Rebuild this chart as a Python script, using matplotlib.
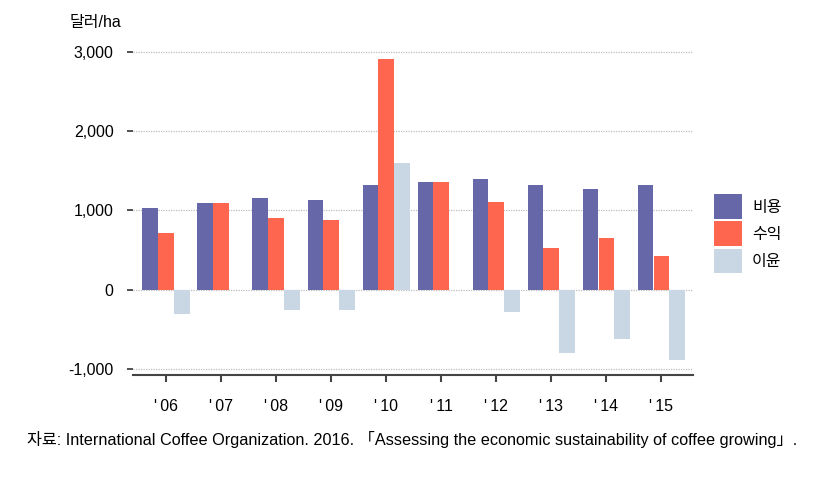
import matplotlib.pyplot as plt
from matplotlib.patches import Patch
import numpy as np

plt.rcParams['font.family'] = ['Liberation Sans', 'Noto Sans CJK KR', 'DejaVu Sans']

years = ["'\u200906", "'\u200907", "'\u200908", "'\u200909", "'\u200910",
         "'\u200911", "'\u200912", "'\u200913", "'\u200914", "'\u200915"]
cost = [1030, 1100, 1160, 1135, 1315, 1365, 1395, 1315, 1275, 1315]
revenue = [720, 1100, 900, 880, 2910, 1365, 1110, 525, 655, 430]
profit = [-305, 0, -250, -250, 1600, 0, -285, -800, -620, -885]

series = [('비용', cost, '#6567a9'), ('수익', revenue, '#ff6650'), ('이윤', profit, '#c9d6e4')]

fig = plt.figure(figsize=(8.33, 4.79), dpi=100)
ax = fig.add_axes([133 / 833, 1 - 375 / 479, 560 / 833, 331 / 479])

x = np.arange(len(years))
w = 0.29
for i, (name, vals, col) in enumerate(series):
    ax.bar(x + (i - 1) * w, vals, width=w * 0.95, color=col, zorder=3)

ax.set_xlim(-0.6, 9.58)
ax.set_ylim(-1076, 3100)
yt = [-1000, 0, 1000, 2000, 3000]
ax.set_yticks(yt)
ax.set_yticklabels(['-1,000', '0', '1,000', '2,000', '3,000'], fontsize=11.5)
for v in yt:
    ax.axhline(v, color='#bdbdbd', linestyle=(0, (1, 1)), linewidth=0.9, zorder=1)
ax.set_xticks(x)
ax.set_xticklabels(years, fontsize=11.5)

for s in ['top', 'right', 'left']:
    ax.spines[s].set_visible(False)
ax.spines['bottom'].set_color('#444444')
ax.spines['bottom'].set_linewidth(1.5)
ax.tick_params(axis='y', length=4, width=1.2, pad=10, color='#333333')
ax.tick_params(axis='x', length=5, width=1.5, pad=12, color='#444444')

handles = [Patch(facecolor=c, label=n) for n, _, c in series]
fig.legend(handles=handles, loc='upper left', bbox_to_anchor=(708 / 833, 1 - 188 / 479),
           frameon=False, fontsize=11.5, handlelength=1.75, handleheight=2.0,
           labelspacing=0.15, handletextpad=0.6, borderaxespad=0)

fig.text(70 / 833, 1 - 22 / 479, '달러/ha', fontsize=11.5, va='center', ha='left')
fig.text(27 / 833, 1 - 439 / 479,
         '자료: International Coffee Organization. 2016. 「Assessing the economic sustainability of coffee growing」.',
         fontsize=11.7, va='center', ha='left')

fig.savefig('out.png', dpi=100)
